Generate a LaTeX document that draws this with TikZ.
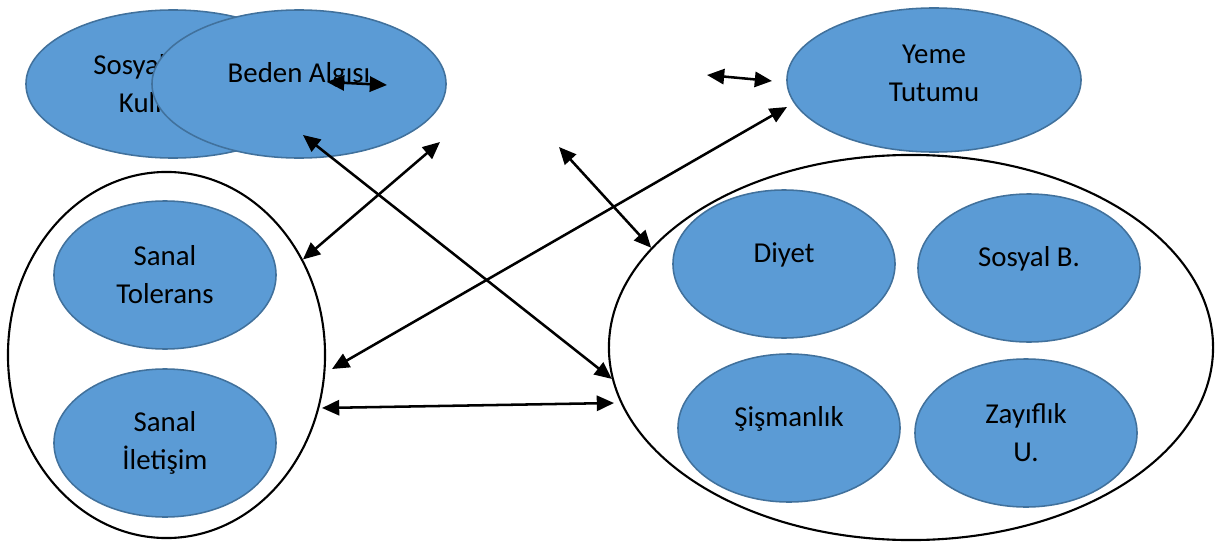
\documentclass[tikz,border=0pt]{standalone}
\usepackage{fontspec}
\setmainfont{Carlito}
\usetikzlibrary{arrows.meta,shapes.geometric}
\definecolor{wordblue}{RGB}{91,155,213}
\definecolor{edgeblue}{RGB}{65,113,156}
\tikzset{
  bubble/.style={ellipse,draw=edgeblue,line width=1.1pt,fill=wordblue,minimum width=5.55cm,minimum height=3.7cm,align=center,inner sep=0pt},
  wide/.style={bubble,minimum width=7.35cm},
  group/.style={ellipse,draw=black,line width=1.5pt,fill=white,inner sep=0pt},
  oneline/.style={text height=14pt,text depth=16.5pt},
  arr/.style={{Triangle[length=4.3mm,width=3.8mm]}-{Triangle[length=4.3mm,width=3.8mm]},draw=black,line width=1.8pt}
}
\begin{document}
\begin{tikzpicture}[x=0.025cm,y=-0.025cm,font=\fontsize{20.5}{27}\selectfont]
  \useasboundingbox (0,0) rectangle (1232,546);
  % top row
  \node[wide] (medya) at (173,84) {Sosyal Medya\\Kullanımı};
  \node[wide,oneline] (beden) at (299,84) {Beden Algısı};
  \node[wide,minimum height=3.6cm,text depth=9.4pt] (yeme) at (934,80) {Yeme\\Tutumu};
  % groups
  \node[group,minimum width=7.925cm,minimum height=9.15cm] (grupsol) at (166.5,355) {};
  \node[group,minimum width=15.1cm,minimum height=9.625cm] (grupsag) at (911,347.5) {};
  \node[bubble] (tolerans) at (165,275) {Sanal\\Tolerans};
  \node[bubble] (iletisim) at (165,443) {Sanal\\İletişim};
  \node[bubble,oneline] (diyet) at (784,264) {Diyet};
  \node[bubble,oneline] (sosyalb) at (1029,268) {Sosyal B.};
  \node[bubble,oneline] (sisman) at (789,428) {Şişmanlık};
  \node[bubble] (zayif) at (1026,433) {Zayıflık\\U.};
  % free arrow ends
  \coordinate (bedenin) at (327,82);
  \coordinate (bedenout) at (387,85);
  \coordinate (yemein) at (707,75);
  \coordinate (yemeout) at (772,81);
  \coordinate (bedenalt) at (303,135);
  \coordinate (sagust) at (440,142);
  \coordinate (ortaust) at (559,147);
  \coordinate (yemesol) at (787,107);
  \coordinate (solorta) at (332,369);
  \coordinate (solalt) at (322,408);
  \coordinate (sagalt) at (614,403);
  % arrows
  \draw[arr] (bedenin)--(bedenout);
  \draw[arr] (yemein)--(yemeout);
  \draw[arr] (bedenalt)--(grupsag.186);
  \draw[arr] (sagust)--(grupsol.35);
  \draw[arr] (ortaust)--(grupsag.159);
  \draw[arr] (yemesol)--(solorta);
  \draw[arr] (solalt)--(sagalt);
\end{tikzpicture}
\end{document}
